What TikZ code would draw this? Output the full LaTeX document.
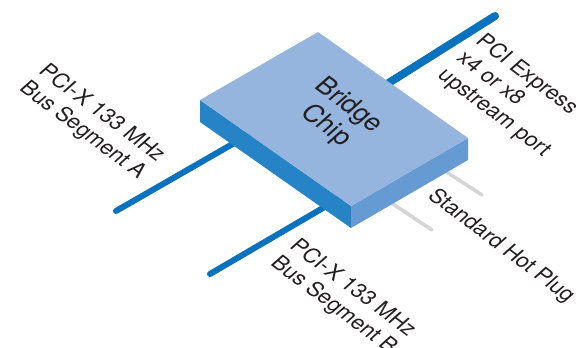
\documentclass[tikz,border=0pt]{standalone}
\usepackage{fontspec}
\setmainfont{TeX Gyre Heros}
\usepackage{tikz}
\usetikzlibrary{positioning}
\definecolor{busblue}{RGB}{8,114,190}
\definecolor{chiptop}{RGB}{149,180,222}
\definecolor{chipleft}{RGB}{38,132,198}
\definecolor{chipright}{RGB}{101,154,210}
\definecolor{plugrey}{RGB}{212,212,212}
\definecolor{txt}{RGB}{35,31,32}

\begin{document}
\begin{tikzpicture}[x=1pt, y=-1pt,
		bus/.style = {line width=#1, busblue, line cap=round},
		plug/.style = {line width=3.5pt, plugrey, line cap=round},
		lbl/.style = {txt, inner sep=0pt, rotate=-37, xslant=0.2, align=left,
			font=\fontsize{21.5}{25}\selectfont},
		chiplbl/.style = {lbl, align=center, font=\fontsize{26}{30}\selectfont}]
		\clip (0,0) rectangle (587,348);
		% chip corners
		\coordinate (L) at (200,100);
		\coordinate (T) at (318,32);
		\coordinate (R) at (468,138);
		\coordinate (F) at (351,206);
		\coordinate (Ld) at (200,122);
		\coordinate (Rd) at (468,160);
		\coordinate (Fd) at (351,228);
		% line ends
		\coordinate (upIn) at (360,101);
		\coordinate (upOut) at (495,16);
		\coordinate (aIn) at (250,134);
		\coordinate (aOut) at (116,211);
		\coordinate (bIn) at (340,198);
		\coordinate (bOut) at (210,274);
		\coordinate (p1In) at (425,158);
		\coordinate (p1Out) at (482,195);
		\coordinate (p2In) at (372,190);
		\coordinate (p2Out) at (432,230);
		\draw[plug] (p1In) -- (p1Out);
		\draw[plug] (p2In) -- (p2Out);
		\draw[bus=8pt] (upIn) -- (upOut);
		\draw[bus=6pt] (aIn) -- (aOut);
		\draw[bus=6pt] (bIn) -- (bOut);
		% chip
		\fill[chipleft] (L) -- (F) -- (Fd) -- (Ld) -- cycle;
		\fill[chipright] (F) -- (R) -- (Rd) -- (Fd) -- cycle;
		\fill[chiptop] (L) -- (T) -- (R) -- (F) -- cycle;
		\node[chiplbl] (chip) at (337,116) {Bridge\\Chip};
		% labels
		\node[lbl] (segA) at (92,122) {PCI-X 133 MHz\\Bus Segment A};
		\node[lbl] (pcie) at (513,96) {PCI Express\\x4 or x8\\upstream port};
		\node[lbl] (hotplug) at (501,246) {Standard Hot Plug};
		\node[lbl] (segB) at (343,297) {PCI-X 133 MHz\\Bus Segment B};
	\end{tikzpicture}
\end{document}
